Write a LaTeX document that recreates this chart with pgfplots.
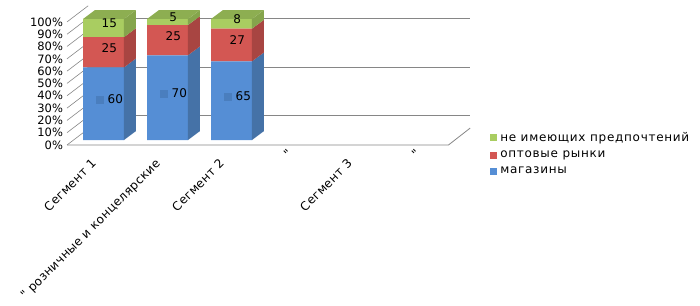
\documentclass[border=0pt]{standalone}
\usepackage{fontspec}
\setmainfont{DejaVu Sans}
\newfontfamily\legfont[LetterSpace=6]{DejaVu Sans}
\newfontfamily\catfont[LetterSpace=3]{DejaVu Sans}
\usepackage{pgfplots}
\pgfplotsset{compat=1.18}
\definecolor{blueF}{RGB}{85,142,213}
\definecolor{blueS}{RGB}{69,114,167}
\definecolor{blueQ}{RGB}{74,126,190}
\definecolor{redF}{RGB}{211,87,83}
\definecolor{redS}{RGB}{168,69,66}
\definecolor{greenF}{RGB}{169,205,97}
\definecolor{greenS}{RGB}{133,165,76}
\definecolor{greenT}{RGB}{141,174,81}
\definecolor{gridc}{RGB}{134,134,134}
\newcommand{\qlab}{\makebox[0pt][l]{\hspace{4bp}\raisebox{4bp}{"}}}
\begin{document}
\begin{tikzpicture}
\useasboundingbox (0,0) rectangle (700bp,306bp);
\begin{axis}[
  at={(71.5bp,161bp)}, anchor=south west,
  scale only axis, width=384bp, height=126bp,
  xmin=-0.5, xmax=5.5, ymin=-4.1, ymax=100,
  clip=false,
  axis line style={draw=none},
  major tick length=0pt,
  xtick={0,1,2,3,4,5},
  xticklabels={Сегмент 1,{" розничные и концелярские},Сегмент 2,{\qlab},Сегмент 3,{\qlab}},
  ytick={-4.1,6.1,16.2,26.4,36.6,46.8,56.9,67.1,77.3,87.4,97.6},
  yticklabels={0\%,10\%,20\%,30\%,40\%,50\%,60\%,70\%,80\%,90\%,100\%},
  yticklabel style={font=\fontsize{11.5bp}{13bp}\selectfont, xshift=-5bp},
  xticklabel style={font=\catfont\fontsize{12bp}{14bp}\selectfont, rotate=45, anchor=north east,
    text height=9bp, text depth=3bp, xshift=-15bp, yshift=3.5bp},
]
% back wall gridlines and floor
\addplot[sharp plot, gridc, line width=0.8bp, forget plot] coordinates {(-0.24,20) (5.73,20)};
\addplot[sharp plot, gridc, line width=0.8bp, forget plot] coordinates {(-0.24,60.4) (5.73,60.4)};
\addplot[sharp plot, gridc, line width=0.8bp, forget plot] coordinates {(-0.24,100.9) (5.73,100.9)};
\addplot[sharp plot, gridc, line width=0.8bp, forget plot] coordinates {(-0.57,-4.1) (5.39,-4.1) (5.73,9.9)};
\addplot[sharp plot, gridc, line width=0.6bp, forget plot] coordinates {(-0.57,-4.1) (-0.24,9.2)};
\addplot[sharp plot, gridc, line width=0.6bp, forget plot] coordinates {(-0.57,6.1) (-0.24,19.4)};
\addplot[sharp plot, gridc, line width=0.6bp, forget plot] coordinates {(-0.57,16.2) (-0.24,29.5)};
\addplot[sharp plot, gridc, line width=0.6bp, forget plot] coordinates {(-0.57,26.4) (-0.24,39.7)};
\addplot[sharp plot, gridc, line width=0.6bp, forget plot] coordinates {(-0.57,36.6) (-0.24,49.9)};
\addplot[sharp plot, gridc, line width=0.6bp, forget plot] coordinates {(-0.57,46.8) (-0.24,60.1)};
\addplot[sharp plot, gridc, line width=0.6bp, forget plot] coordinates {(-0.57,56.9) (-0.24,70.2)};
\addplot[sharp plot, gridc, line width=0.6bp, forget plot] coordinates {(-0.57,67.1) (-0.24,80.4)};
\addplot[sharp plot, gridc, line width=0.6bp, forget plot] coordinates {(-0.57,77.3) (-0.24,90.6)};
\addplot[sharp plot, gridc, line width=0.6bp, forget plot] coordinates {(-0.57,87.4) (-0.24,100.7)};
\addplot[sharp plot, gridc, line width=0.6bp, forget plot] coordinates {(-0.57,97.6) (-0.24,110.9)};
\end{axis}
\begin{axis}[
  at={(71.5bp,161bp)}, anchor=south west,
  scale only axis, width=384bp, height=126bp,
  xmin=-0.5, xmax=5.5, ymin=-4.1, ymax=100,
  clip=false, hide axis,
  ybar stacked, bar width=41bp,
  legend style={at={(1.09,0.126)}, anchor=north west, draw=none, fill=none,
    font=\legfont\fontsize{12bp}{14bp}\selectfont, row sep=2bp, cells={anchor=west},
    inner sep=0pt, nodes={inner sep=3bp}},
  legend image code/.code={\fill (0bp,-3.5bp) rectangle (7bp,3.5bp);},
  reverse legend,
]
\addplot[fill=blueF, draw=none] coordinates {(0,60) (1,70) (2,65)};
\addlegendentry{магазины}
\addplot[fill=redF, draw=none] coordinates {(0,25) (1,25) (2,27)};
\addlegendentry{оптовые рынки}
\addplot[fill=greenF, draw=none] coordinates {(0,15) (1,5) (2,8)};
\addlegendentry{не имеющих предпочтений}
\end{axis}
\begin{axis}[
  at={(71.5bp,161bp)}, anchor=south west,
  scale only axis, width=384bp, height=126bp,
  xmin=-0.5, xmax=5.5, ymin=-4.1, ymax=100,
  clip=false, hide axis,
]
% side faces
\addplot[fill=blueS, draw=none] coordinates {(0.32,0)(0.5075,7.4)(0.5075,67.4)(0.32,60)} -- cycle;
\addplot[fill=redS, draw=none] coordinates {(0.32,60)(0.5075,67.4)(0.5075,92.4)(0.32,85)} -- cycle;
\addplot[fill=greenS, draw=none] coordinates {(0.32,85)(0.5075,92.4)(0.5075,107.4)(0.32,100)} -- cycle;
\addplot[fill=greenT, draw=none] coordinates {(-0.32,100)(-0.1325,107.4)(0.5075,107.4)(0.32,100)} -- cycle;
\addplot[fill=blueS, draw=none] coordinates {(1.32,0)(1.5075,7.4)(1.5075,77.4)(1.32,70)} -- cycle;
\addplot[fill=redS, draw=none] coordinates {(1.32,70)(1.5075,77.4)(1.5075,102.4)(1.32,95)} -- cycle;
\addplot[fill=greenS, draw=none] coordinates {(1.32,95)(1.5075,102.4)(1.5075,107.4)(1.32,100)} -- cycle;
\addplot[fill=greenT, draw=none] coordinates {(0.68,100)(0.8675,107.4)(1.5075,107.4)(1.32,100)} -- cycle;
\addplot[fill=blueS, draw=none] coordinates {(2.32,0)(2.5075,7.4)(2.5075,72.4)(2.32,65)} -- cycle;
\addplot[fill=redS, draw=none] coordinates {(2.32,65)(2.5075,72.4)(2.5075,99.4)(2.32,92)} -- cycle;
\addplot[fill=greenS, draw=none] coordinates {(2.32,92)(2.5075,99.4)(2.5075,107.4)(2.32,100)} -- cycle;
\addplot[fill=greenT, draw=none] coordinates {(1.68,100)(1.8675,107.4)(2.5075,107.4)(2.32,100)} -- cycle;
% value labels
\addplot[draw=none, mark=none, nodes near coords, point meta=explicit symbolic,
  nodes near coords style={anchor=center, font=\fontsize{12bp}{14bp}\selectfont, text=black}]
  table[meta=lab] {
x y lab
0.09 33.7 {\textcolor{blueQ}{\rule{8bp}{8bp}}\hspace{4bp}60}
1.09 38.7 {\textcolor{blueQ}{\rule{8bp}{8bp}}\hspace{4bp}70}
2.09 36.2 {\textcolor{blueQ}{\rule{8bp}{8bp}}\hspace{4bp}65}
0.09 76.2 25
1.09 86.2 25
2.09 82.2 27
0.09 96.2 15
1.09 101.2 5
2.09 99.7 8
};
\end{axis}
\end{tikzpicture}
\end{document}
